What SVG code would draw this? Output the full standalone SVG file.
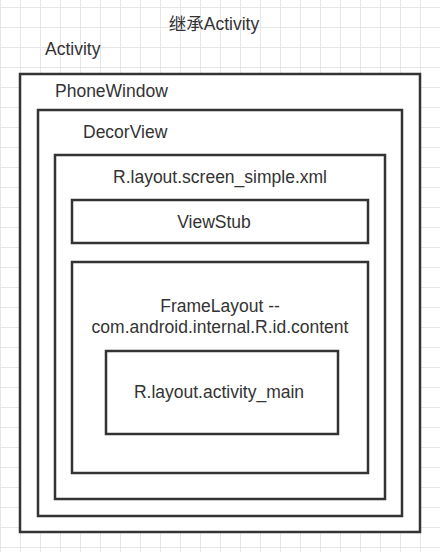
<svg xmlns="http://www.w3.org/2000/svg" width="440" height="552" viewBox="0 0 440 552">
<defs>
<pattern id="grid" x="0" y="7" width="20" height="20" patternUnits="userSpaceOnUse">
<path d="M0.5 0V20M0 0.5H20" fill="none" stroke="#e6e6e6" stroke-width="1"/>
</pattern>
<style>
.box{fill:#fff;stroke:#333;stroke-width:2.5}
.t{font-family:"Liberation Sans","Noto Sans CJK SC",sans-serif;font-size:17.5px;fill:#333}
.c{text-anchor:middle}
</style>
</defs>
<rect width="440" height="552" fill="#fff"/>
<rect width="440" height="552" fill="url(#grid)"/>
<g id="title"><text class="t c" x="214" y="30">继承Activity</text></g>
<g id="activity">
<text class="t" x="45" y="55">Activity</text>
<rect class="box" x="20" y="74" width="400" height="458"/>
</g>
<g id="phonewindow">
<text class="t" x="55" y="97">PhoneWindow</text>
<rect class="box" x="38" y="110" width="364" height="406"/>
</g>
<g id="decorview">
<text class="t" x="83" y="138">DecorView</text>
<rect class="box" x="55" y="155" width="330" height="344"/>
</g>
<g id="screen_simple">
<text class="t c" x="220" y="183">R.layout.screen_simple.xml</text>
</g>
<g id="viewstub">
<rect class="box" x="72" y="200" width="296" height="43"/>
<text class="t c" x="214" y="228">ViewStub</text>
</g>
<g id="framelayout">
<rect class="box" x="72" y="262" width="296" height="211"/>
<text class="t c" x="220" y="312">FrameLayout --</text>
<text class="t c" x="220" y="333">com.android.internal.R.id.content</text>
</g>
<g id="activity_main">
<rect class="box" x="106" y="351" width="232" height="83"/>
<text class="t c" x="219" y="398">R.layout.activity_main</text>
</g>
<g id="connectors"></g>
</svg>
